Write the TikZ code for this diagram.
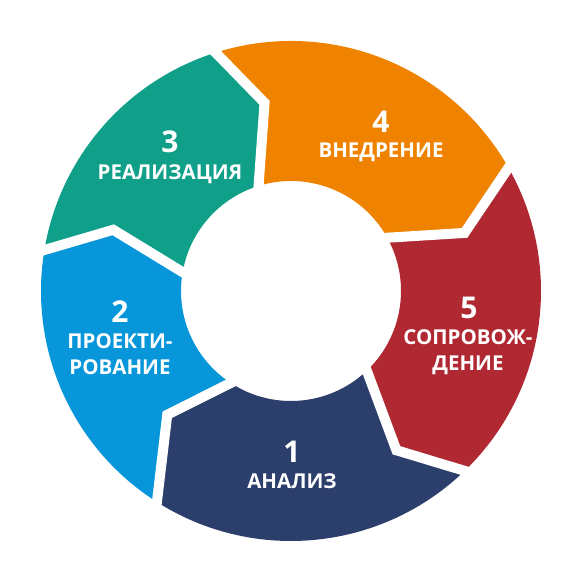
\documentclass[tikz,border=0pt]{standalone}
\usepackage{fontspec}
\setmainfont{Open Sans}
\usepackage{tikz}

\definecolor{analiz}{HTML}{2C3E6B}
\definecolor{proekt}{HTML}{0696D9}
\definecolor{realiz}{HTML}{10A08A}
\definecolor{vnedr}{HTML}{EF8300}
\definecolor{soprov}{HTML}{B02832}

% ring segment: colour, start angle, tip shift, tip radius, end angle, tip shift, tip radius
\newcommand{\ringpart}[7]{%
  \fill[#1] (#2:110) -- (#2-#3:#4) -- (#2:250) arc[start angle=#2, end angle=#5, radius=250]
    -- (#5-#6:#7) -- (#5:110) arc[start angle=#5, end angle=#2, radius=110] -- cycle;}

\begin{document}
\begin{tikzpicture}[x=1pt,y=1pt,
  gap/.style={draw=white, line width=10pt, line join=miter},
  num/.style={text=white, anchor=base, font=\fontsize{30}{30}\selectfont\bfseries},
  lbl/.style={text=white, anchor=base, align=center, font=\fontsize{20.5}{26}\selectfont\bfseries}]
\useasboundingbox (0,0) rectangle (580,580);

\begin{scope}[shift={(291,289)}]
  \ringpart{analiz}{238}{13}{175}{314.5}{11}{191}
  \ringpart{proekt}{171}{10}{188}{238}{13}{175}
  \ringpart{realiz}{108}{10}{190}{171}{10}{188}
  \ringpart{vnedr}{30}{11.5}{183}{108}{10}{190}
  \ringpart{soprov}{-45.5}{11}{191}{30}{11.5}{183}

  % white gaps between the parts
  \draw[gap] (238:106) -- (225:175) -- (238:254);
  \draw[gap] (171:106) -- (161:188) -- (171:254);
  \draw[gap] (108:106) -- (98:190) -- (108:254);
  \draw[gap] (30:106) -- (18.5:183) -- (30:254);
  \draw[gap] (-45.5:106) -- (-56.5:191) -- (-45.5:254);
\end{scope}

\node[num] (n1) at (292,117) {1};
\node[lbl] (l1) at (292,91.5) {АНАЛИЗ};
\node[num] (n2) at (120,257) {2};
\node[lbl] (l2) at (120,205.5) {ПРОЕКТИ-\\РОВАНИЕ};
\node[num] (n3) at (170,427) {3};
\node[lbl] (l3) at (170,400.5) {РЕАЛИЗАЦИЯ};
\node[num] (n4) at (381,447) {4};
\node[lbl] (l4) at (381,422) {ВНЕДРЕНИЕ};
\node[num] (n5) at (469,261) {5};
\node[lbl] (l5) at (468,209) {СОПРОВОЖ-\\ДЕНИЕ};
\end{tikzpicture}
\end{document}
